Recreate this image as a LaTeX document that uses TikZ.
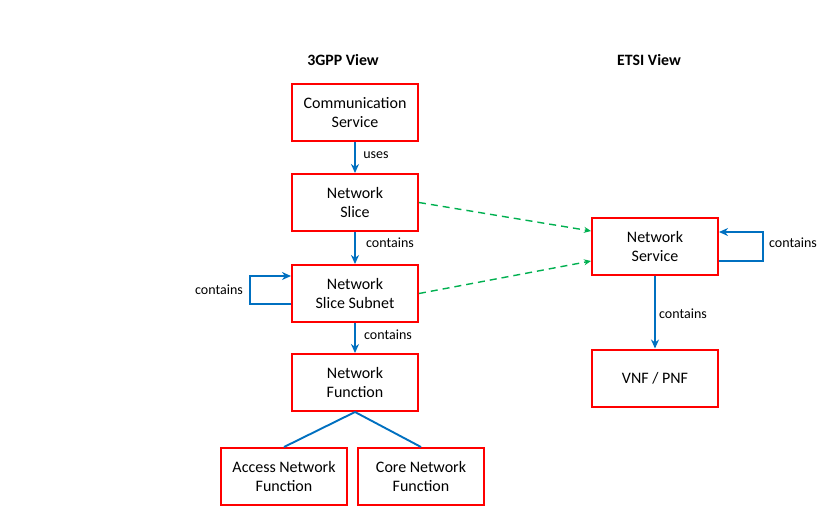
\documentclass[tikz,border=0pt]{standalone}
\usepackage{fontspec}
\setmainfont{Carlito}
\usetikzlibrary{arrows.meta}
\definecolor{boxred}{HTML}{FF0000}
\definecolor{arrblue}{HTML}{0070C0}
\definecolor{dashgreen}{HTML}{00B050}
\begin{document}
\begin{tikzpicture}[x=1pt,y=-1pt,
  box/.style={draw=boxred,line width=2pt,minimum width=126pt,minimum height=57pt,align=center,font=\fontsize{16}{19.5}\selectfont,inner sep=2pt},
  arr/.style={draw=arrblue,line width=1.9pt,-{Stealth[length=9pt,width=8pt]}},
  tree/.style={draw=arrblue,line width=1.9pt},
  dsh/.style={draw=dashgreen,line width=1.4pt,dash pattern=on 7pt off 5pt,-{Stealth[length=7pt,width=6pt]}},
  lbl/.style={font=\fontsize{14}{16}\selectfont,inner sep=0pt},
  ttl/.style={font=\bfseries\fontsize{15.8}{18}\selectfont,inner sep=0pt}]
\useasboundingbox (0,0) rectangle (828,520);
\node[ttl] (t1) at (343,60) {3GPP View};
\node[ttl] (t2) at (649,60) {ETSI View};
\node[box] (comm) at (355,112.5) {Communication\\Service};
\node[box] (slice) at (355,202.5) {Network\\Slice};
\node[box] (subnet) at (355,293.5) {Network\\Slice Subnet};
\node[box] (func) at (355,382.5) {Network\\Function};
\node[box] (access) at (284,476.5) {Access Network\\Function};
\node[box] (core) at (421,476.5) {Core Network\\Function};
\node[box] (ns) at (655,246.5) {Network\\Service};
\node[box] (vnf) at (655,378) {VNF / PNF};
\draw[arr] (comm) -- (slice);
\draw[arr] (slice) -- (subnet);
\draw[arr] (subnet) -- (func);
\draw[arr] (ns) -- (vnf);
\node[lbl] (l1) at (376,155) {uses};
\node[lbl] (l2) at (390,243) {contains};
\node[lbl] (l3) at (388,335) {contains};
\node[lbl] (l4) at (683,314) {contains};
\node[lbl] (l5) at (219,290) {contains};
\node[lbl] (l6) at (793,243) {contains};
\draw[tree] (func.south) -- (access.north);
\draw[tree] (func.south) -- (core.north);
\coordinate (la) at (250,304);
\coordinate (lb) at (250,276);
\draw[arr] (subnet.west |- la) -- (la) -- (lb) -- (subnet.west |- lb);
\coordinate (ra) at (763,261);
\coordinate (rb) at (763,232);
\draw[arr] (ns.east |- ra) -- (ra) -- (rb) -- (ns.east |- rb);
\draw[dsh] (slice.east) -- ([yshift=15.5pt]ns.west);
\draw[dsh] (subnet.east) -- ([yshift=-14.5pt]ns.west);
\end{tikzpicture}
\end{document}
